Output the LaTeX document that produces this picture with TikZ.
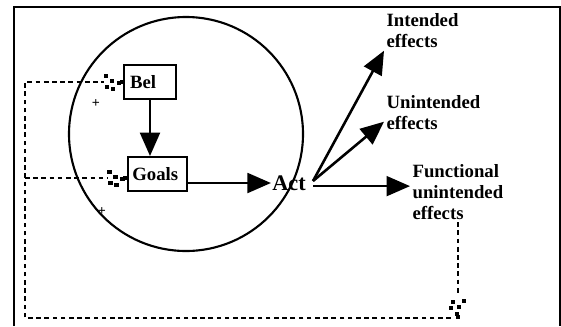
\documentclass[tikz,border=0pt]{standalone}
\usepackage{fontspec}
\setmainfont{Liberation Serif}
\usetikzlibrary{arrows.meta}

\newcommand{\lblfont}{\bfseries\fontsize{16}{18}\selectfont}

\tikzset{
  box/.style={draw,line width=1.7pt,minimum height=29pt,inner xsep=5pt,align=left,font=\lblfont},
  lbl/.style={align=left,inner sep=2pt,font=\lblfont},
  effect/.style={->,line width=2.2pt},
  feedback/.style={line width=1.7pt,dash pattern=on 4pt off 3pt},
  dotarrow/.pic={
    \foreach \p in {(-17,-6),(-16,5),(-11,-1),(-10,7),(-4,1),(-1,0)}
      \fill \p +(-2.2,-2.2) rectangle +(2.2,2.2);
  }
}

\begin{document}
\begin{tikzpicture}[x=0.03cm,y=-0.03cm,>={Triangle[length=20pt,width=17pt]}]
\useasboundingbox (0,0) rectangle (561,326);
% frame and circle
\draw[line width=2pt] (14,326) -- (14,7) -- (560,7) -- (560,326);
\draw[line width=1.8pt] (186,134) circle[radius=117];

% inside the circle
\node[box,text width=34pt] (bel) at (150,82) {Bel};
\node[box,text width=43pt,inner xsep=4pt] (goals) at (157.5,174) {Goals};
\node[lbl,font=\bfseries\fontsize{19}{19}\selectfont,inner sep=1pt] (act) at (289,183) {Act};
\node[font=\bfseries\fontsize{12}{12}\selectfont] (plusA) at (96,104) {+};
\node[font=\bfseries\fontsize{12}{12}\selectfont] (plusB) at (102,212) {+};
\coordinate (hub) at (313,181);

% effects
\node[lbl,anchor=west] (intended) at (384,31) {Intended\\effects};
\node[lbl,anchor=west] (unintended) at (384,113) {Unintended\\effects};
\node[lbl,anchor=west] (functional) at (410,192) {Functional\\unintended\\effects};

\draw[effect] (bel.south) -- (bel.south |- goals.north);
\draw[effect,line width=1.8pt] (goals.east |- act) -- (act.west);
\draw[effect] (hub) -- (intended.south west);
\draw[effect] (hub) -- (unintended.190);
\draw[effect,line width=1.8pt] (hub |- functional.173) -- (functional.173);

% feedback loop
\coordinate (loopL) at (25,318);
\coordinate (loopT) at (loopL |- bel.west);
\coordinate (loopG) at (25,178);
\draw[feedback] (functional.south) -- ([yshift=20pt]functional.south |- loopL);
\pic[rotate=-90] at (functional.south |- loopL) {dotarrow};
\draw[feedback] ([xshift=-6pt]functional.south |- loopL) -- (loopL) -- (loopT) -- ([xshift=-16pt]bel.west);
\pic at (bel.west) {dotarrow};
\draw[feedback] (loopG) -- ([xshift=-16pt]goals.west |- loopG);
\pic at (goals.west |- loopG) {dotarrow};
\end{tikzpicture}
\end{document}
